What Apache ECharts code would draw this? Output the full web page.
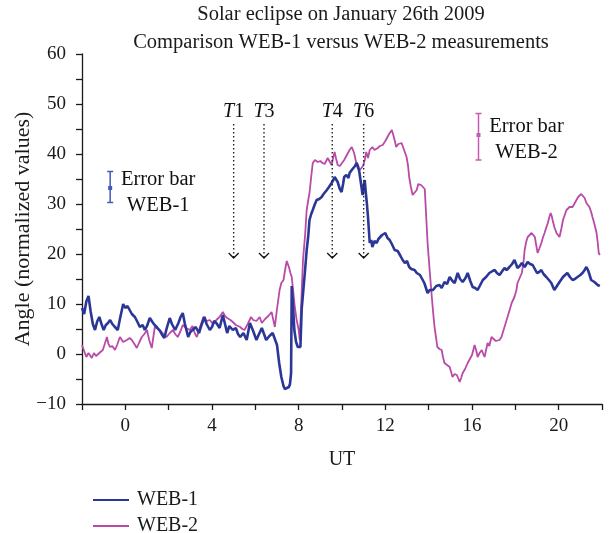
<!DOCTYPE html>
<html><head><meta charset="utf-8">
<script src="https://cdn.jsdelivr.net/npm/echarts@6/dist/echarts.min.js"></script>
<style>html,body{margin:0;padding:0;background:#fff}#c{width:609px;height:533px}</style>
</head><body><div id="c"></div>
<script>
// ---- data ----
const web1Time = [-2.0,-1.9,-1.8,-1.7,-1.6,-1.5,-1.4,-1.3,-1.2,-1.1,-1.0,-0.9,-0.8,-0.7,-0.6,-0.5,-0.35,-0.25,-0.1,0.0,0.1,0.2,0.3,0.44,0.55,0.67,0.8,0.9,1.0,1.13,1.25,1.35,1.45,1.6,1.7,1.8,1.9,2.05,2.15,2.3,2.45,2.55,2.65,2.75,2.9,3.0,3.1,3.25,3.4,3.5,3.65,3.75,3.9,4.0,4.1,4.2,4.35,4.5,4.6,4.7,4.8,4.96,5.1,5.2,5.3,5.45,5.6,5.75,5.9,6.05,6.15,6.3,6.4,6.5,6.65,6.8,6.9,7.0,7.05,7.1,7.2,7.3,7.36,7.45,7.55,7.6,7.65,7.68,7.75,7.8,7.88,7.96,8.08,8.14,8.22,8.3,8.37,8.44,8.5,8.58,8.65,8.75,8.83,8.95,9.06,9.15,9.22,9.3,9.4,9.52,9.6,9.66,9.73,9.8,9.9,9.98,10.05,10.1,10.2,10.3,10.35,10.45,10.5,10.6,10.68,10.75,10.8,10.88,10.95,11.0,11.05,11.1,11.15,11.2,11.28,11.35,11.4,11.5,11.6,11.68,11.74,11.85,12.0,12.1,12.2,12.3,12.35,12.43,12.57,12.7,12.8,12.9,13.0,13.1,13.2,13.35,13.45,13.6,13.7,13.8,13.95,14.05,14.2,14.35,14.5,14.6,14.73,14.85,14.97,15.1,15.2,15.34,15.45,15.57,15.7,15.8,15.92,16.03,16.15,16.26,16.38,16.5,16.65,16.8,16.95,17.05,17.15,17.27,17.4,17.5,17.6,17.73,17.85,17.96,18.05,18.1,18.2,18.3,18.43,18.57,18.68,18.8,18.9,19.0,19.1,19.2,19.3,19.43,19.55,19.66,19.8,19.92,20.04,20.2,20.3,20.4,20.52,20.64,20.75,20.87,21.0,21.1,21.2,21.28,21.35,21.4,21.5,21.65,21.8,21.9];
const web1Angle = [9.2,8.0,10.5,11.6,8.5,6.0,4.8,6.5,7.4,6.0,4.8,5.8,6.2,6.8,6.0,5.5,4.8,7.0,10.0,9.2,9.6,8.8,8.0,7.4,6.5,5.4,5.8,4.8,5.6,7.2,6.4,5.8,5.4,4.6,3.8,3.2,5.0,7.2,6.0,4.8,6.2,7.4,8.2,6.0,3.4,4.4,4.8,5.4,4.2,5.6,7.4,6.0,4.8,5.4,6.6,6.2,5.2,7.8,6.0,4.2,5.6,4.8,5.2,4.0,3.4,4.2,2.8,6.2,4.6,2.8,3.8,5.2,4.0,2.8,3.6,4.2,3.0,1.8,0.0,-1.8,-4.6,-6.4,-7.0,-6.8,-6.6,-6.0,-3.8,13.6,8.8,4.8,2.4,1.4,1.4,9.0,13.0,17.0,20.8,23.5,26.8,28.0,28.8,30.0,30.8,31.0,31.4,32.0,31.6,32.8,33.4,34.2,34.8,35.4,34.9,34.4,33.0,32.4,34.0,35.4,35.8,35.2,36.2,36.8,37.2,37.6,38.2,37.4,36.4,34.0,31.8,33.5,34.8,32.2,30.0,27.4,22.2,22.8,21.4,22.6,22.2,23.0,23.2,23.8,24.2,23.2,22.8,22.0,22.2,20.8,20.6,19.6,18.8,18.2,18.6,17.4,17.0,16.8,16.2,15.8,15.0,14.2,12.2,12.8,12.8,13.6,13.8,13.2,14.4,14.0,15.4,14.6,14.2,16.2,15.0,14.4,15.2,16.2,14.6,13.4,13.2,12.8,13.8,14.8,15.4,16.2,16.6,16.8,16.2,15.8,16.6,17.2,16.8,17.4,18.0,18.8,17.8,17.2,17.6,18.2,17.4,18.4,18.0,17.8,17.0,16.2,16.4,16.8,16.0,15.4,14.8,14.2,12.8,13.6,14.4,15.4,15.8,16.2,15.4,14.8,15.0,15.4,15.8,16.2,16.8,17.4,16.8,16.2,14.8,14.4,13.8,13.6];

const web2Time = [-2.0,-1.9,-1.8,-1.7,-1.55,-1.45,-1.35,-1.27,-1.15,-1.04,-0.95,-0.85,-0.78,-0.7,-0.6,-0.48,-0.38,-0.25,-0.1,0.07,0.2,0.3,0.42,0.53,0.65,0.76,0.88,1.0,1.1,1.22,1.36,1.5,1.6,1.75,1.9,2.05,2.2,2.3,2.42,2.55,2.65,2.8,2.97,3.1,3.2,3.3,3.45,3.6,3.75,3.9,4.05,4.2,4.35,4.5,4.6,4.7,4.85,4.96,5.1,5.3,5.4,5.5,5.65,5.8,5.9,6.05,6.2,6.3,6.45,6.6,6.75,6.9,7.0,7.12,7.2,7.3,7.38,7.45,7.55,7.62,7.68,7.75,7.82,7.9,8.0,8.05,8.13,8.2,8.3,8.37,8.45,8.5,8.58,8.65,8.75,8.88,9.0,9.1,9.2,9.34,9.43,9.52,9.6,9.66,9.73,9.8,9.9,9.98,10.1,10.2,10.35,10.45,10.5,10.56,10.63,10.72,10.82,10.9,10.97,11.05,11.12,11.2,11.28,11.4,11.5,11.65,11.75,11.88,12.0,12.1,12.2,12.3,12.38,12.45,12.5,12.6,12.75,12.85,12.98,13.05,13.1,13.18,13.26,13.35,13.45,13.52,13.58,13.65,13.72,13.82,13.9,13.95,14.05,14.13,14.2,14.27,14.35,14.4,14.5,14.6,14.66,14.73,14.85,14.97,15.05,15.1,15.2,15.3,15.38,15.43,15.5,15.57,15.68,15.8,15.9,16.0,16.12,16.2,16.26,16.35,16.45,16.52,16.58,16.65,16.72,16.8,16.9,17.0,17.1,17.18,17.27,17.36,17.5,17.64,17.75,17.83,17.96,18.05,18.1,18.2,18.3,18.38,18.43,18.5,18.57,18.65,18.75,18.83,18.9,18.97,19.03,19.1,19.2,19.28,19.35,19.42,19.5,19.57,19.63,19.68,19.72,19.8,19.9,20.04,20.12,20.2,20.28,20.36,20.45,20.5,20.58,20.64,20.72,20.82,20.9,20.96,21.04,21.1,21.2,21.28,21.35,21.42,21.5,21.56,21.65,21.75,21.8,21.85,21.9];
const web2Angle = [1.8,0.6,-0.6,0.2,-0.8,0.2,-0.4,-0.2,0.4,0.8,2.0,3.4,2.0,1.4,1.6,0.8,1.8,3.4,2.4,2.8,3.2,2.8,2.0,1.2,2.4,3.4,4.0,4.8,2.8,1.2,5.4,5.0,4.8,4.0,3.4,4.2,4.8,4.0,3.4,4.6,5.8,5.2,4.8,5.6,4.2,3.4,5.4,7.4,6.6,6.8,6.0,6.8,7.4,8.4,7.6,7.2,6.8,6.4,5.8,5.4,5.0,4.8,6.0,7.4,6.8,6.6,7.4,6.2,7.0,7.6,8.4,5.4,9.0,12.8,14.2,14.8,17.0,18.6,17.4,16.2,15.4,12.5,9.4,7.0,4.8,2.8,11.4,18.8,24.0,28.8,31.0,32.2,35.5,38.2,38.8,38.4,38.6,38.2,38.0,39.2,38.8,37.8,39.4,40.4,39.0,37.8,37.6,37.2,38.8,39.6,40.8,41.4,41.8,40.2,38.8,37.2,36.8,36.4,37.6,38.8,40.4,39.2,40.8,41.4,40.8,41.2,41.6,41.8,42.6,43.4,44.2,44.8,43.6,42.4,41.4,42.0,42.2,41.0,39.4,37.6,35.4,33.4,31.8,32.2,32.8,34.0,34.4,33.8,33.4,33.0,32.8,22.2,16.5,12.2,8.6,5.4,3.0,1.4,1.0,0.8,-0.6,-1.8,-2.2,-2.6,-3.8,-4.6,-4.0,-4.2,-5.0,-5.6,-4.8,-3.8,-3.0,-1.8,-1.0,-0.2,1.8,0.6,-0.6,0.2,0.8,0.0,-0.6,0.8,2.2,1.6,3.4,3.0,2.6,2.2,2.8,3.4,5.4,7.4,9.0,10.2,11.4,12.8,14.2,15.2,16.2,18.5,20.8,22.4,23.4,23.8,24.2,24.0,23.4,21.6,20.2,21.0,22.2,23.4,24.2,25.2,26.2,27.4,28.2,27.6,26.8,25.4,24.2,23.4,25.0,26.8,27.8,28.8,29.2,29.4,29.0,29.4,30.0,30.8,31.4,31.8,32.0,32.2,31.2,30.2,29.8,29.4,28.4,27.4,26.0,24.2,22.4,20.2,19.8];

const eventNames = ['1', '3', '4', '6'];      // shown as italic T + number
const eventTimes = [5.0, 6.4, 9.55, 11.0];
const eventTop = 46;
const eventBottom = 19.2;

const errNames = ['WEB-1', 'WEB-2'];
const errTime = [-0.7, 16.3];
const errLow = [30.3, 38.8];
const errMid = [33.2, 43.8];
const errHigh = [36.5, 48.1];

const xTicks = [0, 4, 8, 12, 16, 20];
const seriesNames = ['WEB-1', 'WEB-2'];

// ---- styles ----
const SERIF = '"Liberation Serif", "Times New Roman", serif';
const C1 = '#2b3796';
const C2 = '#b94aa7';
const C1e = '#3f5ab8';
const C2e = '#c25db2';
const AX = '#1a1a1a';

const chart = echarts.init(document.getElementById('c'), null, {renderer: 'canvas'});

function legendFor(name, top) {
  return {
    orient: 'vertical', left: 88, top: top,
    data: [{name: name, icon: 'rect'}],
    itemWidth: 36, itemHeight: 2,
    textStyle: {fontFamily: SERIF, fontSize: 20, color: '#1a1a1a', padding: [0, 0, 0, 3]}
  };
}

const option = {
  animation: false,
  backgroundColor: '#ffffff',
  textStyle: {fontFamily: SERIF},
  grid: {left: 82, right: 7, top: 54, bottom: 129, containLabel: false, outerBoundsMode: 'none'},
  graphic: [
    {type: 'text', x: 341, y: 15, style: {text: 'Solar eclipse on January 26th 2009', font: '20.5px ' + SERIF, fill: '#1a1a1a', align: 'center', verticalAlign: 'middle'}},
    {type: 'text', x: 341, y: 43, style: {text: 'Comparison WEB-1 versus WEB-2 measurements', font: '20.5px ' + SERIF, fill: '#1a1a1a', align: 'center', verticalAlign: 'middle'}}
  ],
  legend: [legendFor(seriesNames[0], 485), legendFor(seriesNames[1], 511)],
  xAxis: {
    type: 'value', min: -2, max: 22, interval: 2,
    name: 'UT', nameLocation: 'middle', nameGap: 46, nameMoveOverlap: false,
    nameTextStyle: {fontFamily: SERIF, fontSize: 20, color: '#1a1a1a'},
    axisLine: {show: true, onZero: false, lineStyle: {color: AX, width: 1.3}},
    axisTick: {show: true, inside: false, length: 6, lineStyle: {color: AX, width: 1.3}},
    axisLabel: {margin: 13, fontFamily: SERIF, fontSize: 19, color: '#1a1a1a',
      formatter: v => (xTicks.indexOf(v) >= 0 ? String(v) : '')},
    splitLine: {show: false}
  },
  yAxis: {
    type: 'value', min: -10, max: 60, interval: 5,
    name: 'Angle (normalized values)', nameLocation: 'middle', nameGap: 48, nameMoveOverlap: false,
    nameTextStyle: {fontFamily: SERIF, fontSize: 22, color: '#1a1a1a'},
    axisLine: {show: true, onZero: false, lineStyle: {color: AX, width: 1.3}},
    axisTick: {show: true, inside: false, length: 6, lineStyle: {color: AX, width: 1.3}},
    axisLabel: {margin: 16, fontFamily: SERIF, fontSize: 19, color: '#1a1a1a',
      formatter: v => (v % 10 === 0 ? String(v).replace('-', '\u2212') : '')},
    splitLine: {show: false}
  },
  series: [
    {
      name: seriesNames[1], type: 'line', showSymbol: false, symbol: 'none',
      data: web2Time.map((t, i) => [t, web2Angle[i]]),
      lineStyle: {color: C2, width: 1.8}, itemStyle: {color: C2}, z: 2
    },
    {
      name: seriesNames[0], type: 'line', showSymbol: false, symbol: 'none',
      data: web1Time.map((t, i) => [t, web1Angle[i]]),
      lineStyle: {color: C1, width: 2.6}, itemStyle: {color: C1}, z: 3
    },
    {
      name: 'events', type: 'custom', z: 5, silent: true,
      data: eventTimes.map((t, i) => [t, eventTop, eventBottom]),
      encode: {x: 0, y: [1, 2]},
      renderItem: function (params, api) {
        const x = api.value(0);
        const pt = api.coord([x, api.value(1)]);
        const pb = api.coord([x, api.value(2)]);
        return {type: 'group', children: [
          {type: 'line', shape: {x1: pt[0], y1: pt[1], x2: pb[0], y2: pb[1] - 1},
            style: {stroke: '#222', lineWidth: 1.4, lineDash: [1.4, 2.6]}},
          {type: 'polyline', shape: {points: [[pb[0] - 5, pb[1] - 5], [pb[0], pb[1]], [pb[0] + 5, pb[1] - 5]]},
            style: {stroke: '#111', lineWidth: 1.3, fill: null}},
          {type: 'text', style: {text: '{i|T}' + eventNames[params.dataIndex], x: pt[0], y: pt[1] - 12,
            align: 'center', verticalAlign: 'middle', font: '20px ' + SERIF, fill: '#111',
            rich: {i: {fontStyle: 'italic', fontSize: 20, fontFamily: SERIF, fill: '#111'}}}}
        ]};
      }
    },
    {
      name: 'errorbars', type: 'custom', z: 5, silent: true,
      data: errTime.map((t, i) => [t, errLow[i], errMid[i], errHigh[i]]),
      encode: {x: 0, y: [1, 2, 3]},
      renderItem: function (params, api) {
        const i = params.dataIndex;
        const x = api.value(0);
        const pl = api.coord([x, api.value(1)]);
        const pm = api.coord([x, api.value(2)]);
        const ph = api.coord([x, api.value(3)]);
        const col = i === 0 ? C1e : C2e;
        return {type: 'group', children: [
          {type: 'line', shape: {x1: pl[0], y1: pl[1], x2: ph[0], y2: ph[1]}, style: {stroke: col, lineWidth: 1.5}},
          {type: 'line', shape: {x1: pl[0] - 3, y1: pl[1], x2: pl[0] + 3, y2: pl[1]}, style: {stroke: col, lineWidth: 1.5}},
          {type: 'line', shape: {x1: ph[0] - 3, y1: ph[1], x2: ph[0] + 3, y2: ph[1]}, style: {stroke: col, lineWidth: 1.5}},
          {type: 'rect', shape: {x: pm[0] - 2, y: pm[1] - 2, width: 4, height: 4}, style: {fill: col}},
          {type: 'text', style: {text: 'Error bar\n' + errNames[i], x: pm[0] + 48, y: pm[1] + 4.5,
            align: 'center', verticalAlign: 'middle', lineHeight: 26, font: '20.5px ' + SERIF, fill: '#111'}}
        ]};
      }
    }
  ]
};
chart.setOption(option);
</script>
</body></html>
